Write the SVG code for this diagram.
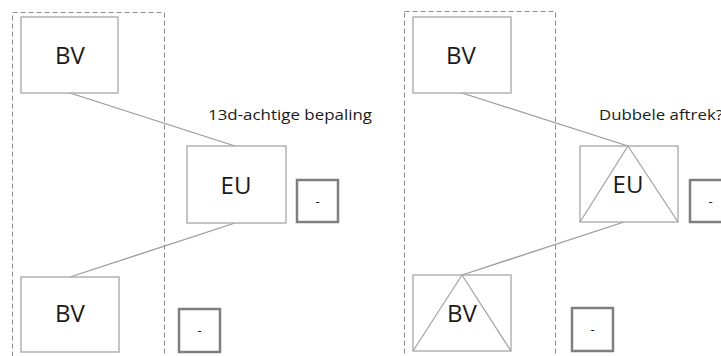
<svg xmlns="http://www.w3.org/2000/svg" width="721" height="356" viewBox="0 0 721 356">
<style>
.frame{fill:none;stroke:#8c8c8c;stroke-width:1;stroke-dasharray:5,3}
.box{fill:#fff;stroke:#a6a6a6;stroke-width:1.3}
.tri{fill:none;stroke:#a6a6a6;stroke-width:1.3}
.small{fill:#fff;stroke:#7f7f7f;stroke-width:2.5}
.conn{stroke:#9a9a9a;stroke-width:1.3;fill:none}
.big{font-family:"Open Sans","Noto Sans",sans-serif;font-size:24px;fill:#1a1a1a;text-anchor:middle}
.lbl{font-family:"Open Sans","Noto Sans",sans-serif;font-size:15px;fill:#1a1a1a}
.dash{font-family:"Open Sans","Noto Sans",sans-serif;font-size:13px;fill:#1a1a1a;text-anchor:middle}
</style>
<rect width="721" height="356" fill="#fff"/>
<g id="frame-left"><rect class="frame" x="12.5" y="12.5" width="152" height="360"/></g>
<g id="frame-right"><rect class="frame" x="404.5" y="11.5" width="151" height="360"/></g>
<g id="connectors">
<line class="conn" x1="70" y1="93" x2="235" y2="146"/>
<line class="conn" x1="235" y1="223" x2="70" y2="277"/>
<line class="conn" x1="462" y1="93" x2="628" y2="146"/>
<line class="conn" x1="624" y1="222" x2="462" y2="275"/>
</g>
<g id="bv-left-top"><rect class="box" x="21" y="17" width="97" height="76"/><text class="big" x="70" y="64">BV</text></g>
<g id="eu-left"><rect class="box" x="187" y="146" width="99" height="77"/><text class="big" x="236" y="194">EU</text></g>
<g id="bv-left-bottom"><rect class="box" x="21" y="277" width="98" height="75"/><text class="big" x="70" y="322">BV</text></g>
<g id="label-left"><text class="lbl" x="208" y="120" textLength="164" lengthAdjust="spacingAndGlyphs">13d-achtige bepaling</text></g>
<g id="small-left-1"><rect class="small" x="297" y="180" width="41" height="42"/><text class="dash" x="317.5" y="206">-</text></g>
<g id="small-left-2"><rect class="small" x="179" y="309" width="41" height="43"/><text class="dash" x="199.5" y="335">-</text></g>
<g id="bv-right-top"><rect class="box" x="413" y="17" width="98" height="76"/><text class="big" x="461" y="64">BV</text></g>
<g id="eu-right"><rect class="box" x="580" y="146" width="98" height="76"/><path class="tri" d="M628,146 L580,222 M628,146 L678,222"/><text class="big" x="628" y="193">EU</text></g>
<g id="bv-right-bottom"><rect class="box" x="413" y="275" width="98" height="76"/><path class="tri" d="M462,275 L413,351 M462,275 L511,351"/><text class="big" x="462" y="322">BV</text></g>
<g id="label-right"><text class="lbl" x="599" y="120" textLength="124" lengthAdjust="spacingAndGlyphs">Dubbele aftrek?</text></g>
<g id="small-right-1"><rect class="small" x="690" y="180" width="41" height="42"/><text class="dash" x="710.5" y="206">-</text></g>
<g id="small-right-2"><rect class="small" x="572" y="308" width="41" height="43"/><text class="dash" x="592.5" y="334">-</text></g>
</svg>
